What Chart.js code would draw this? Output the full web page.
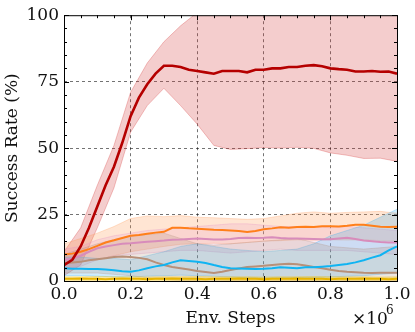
<!DOCTYPE html>
<html>
<head>
<meta charset="utf-8">
<script src="https://cdn.jsdelivr.net/npm/chart.js@4.4.1/dist/chart.umd.min.js"></script>
<style>
  html,body{margin:0;padding:0;background:#fff}
  #wrap{width:415px;height:332px;position:relative}
</style>
</head>
<body>
<div id="wrap"><canvas id="chart" width="415" height="332"></canvas></div>
<script>
// x positions (in millions of env steps)
const STEPS = [0,0.025,0.05,0.075,0.1,0.125,0.15,0.175,0.2,0.225,0.25,0.275,0.3,0.325,0.35,0.375,0.4,0.425,0.45,0.475,0.5,0.525,0.55,0.575,0.6,0.625,0.65,0.675,0.7,0.725,0.75,0.775,0.8,0.825,0.85,0.875,0.9,0.925,0.95,0.975,1.0];
const BAND_STEPS = [0,0.05,0.1,0.15,0.2,0.25,0.3,0.35,0.4,0.45,0.5,0.55,0.6,0.65,0.7,0.75,0.8,0.85,0.9,0.95,1.0];

const X_TICKS = [0,0.2,0.4,0.6,0.8,1.0];
const Y_TICKS = [0,25,50,75,100];

// mean success rate (%)
const redMean = [6,8,13,20,28,36,43,52,62,69,74,78,81,81,80.5,79.5,79,78.5,78,79,79,79,78.5,79.5,79.5,80,80,80.5,80.5,81,81.2,80.8,80,79.7,79.5,78.8,78.8,79,78.7,78.8,78];
const orangeMean = [10,10.3,11,12,13.2,14.5,15.3,16.2,17,17.3,17.8,18.2,18.5,20,20,19.8,19.7,19.5,19.3,19.2,19,18.8,18.4,18.8,19.5,19.8,20.2,20,20.3,20.4,20.3,20.6,20.6,20.5,20.8,21.2,21.2,20.8,20.4,20.3,20.4];
const pinkMean = [8,8.5,9.5,11,12.3,13,13.5,14,14.2,14.5,14.8,15,15.2,15.5,15.6,15.8,16,15.8,15.6,15.6,15.8,16.2,16.3,16.2,16.3,16.5,16.2,16,16,15.9,15.8,15.7,15.7,16,16.3,15.8,15.2,15,14.7,14.5,14.5];
const blueMean = [4.8,4.6,4.6,4.5,4.5,4.3,4,3.7,3.5,4,4.8,5.5,6,7,7.8,7.5,7.2,6.8,6,5.3,4.8,4.7,4.6,4.5,4.6,4.8,5.2,5,4.8,5.2,5.2,5.4,5.6,6,6.4,7,7.8,8.8,9.7,11.5,13];
const brownMean = [6.7,7,7.2,7.8,8.2,8.6,9,9.2,9,8.7,8.2,7,6,5.3,4.8,4.3,3.8,3.4,3,3.5,4.1,4.7,5.3,5.5,5.7,6,6.3,6.5,6.3,5.8,5.3,4.8,4.2,3.8,3.5,3.3,3.1,3,3.1,3.1,3.1];
const yellowMean = [0.8,0.8,0.9,0.8,0.8,0.7,0.8,0.9,0.8,0.8,0.7,0.8,0.8,0.9,0.8,0.8,0.8,0.7,0.8,0.8,0.8,0.9,0.8,0.8,0.7,0.8,0.8,0.8,0.9,0.8,0.8,0.8,0.7,0.8,0.8,0.8,0.9,0.8,0.8,0.7,0.8];

// band edges (upper / lower)
const redUp = [11,20,36,51,71,82,90,96,101,103,103,103,103,103,103,103,103,103,103,103,103];
const redLo = [2,6,20,35,56,66,72.5,66,59,51,49.5,49.8,50.2,50,50.3,49.9,48.2,47.3,46.1,46.2,45];
const orangeUp = [14,16,18,20.5,23.5,24.5,24.2,24.6,24,23.8,23.5,23.2,23.5,24.5,25.5,26,25.5,25.8,26,26.2,25.5];
const orangeLo = [7,7.5,8,9.5,11,12,13,13.8,14,14.2,14,14.5,15,15.2,15.5,15.3,15.5,15.4,15.5,15.2,15];
const pinkUp = [12,13,15.5,17,18,19,19.5,20,20.5,21,21.5,21.5,21,20.5,20.5,20.5,20,20.5,20,19.5,19];
const pinkLo = [4.5,5.5,8,9.5,10,10.5,11,11.5,11.5,11,10.5,11,11.5,12,11.5,11.5,11.5,11.5,11,10.5,10];
const blueUp = [9,9,8.5,8.5,8,9.5,11,13,14,13,12,11.5,11,11.5,12,14,17,19,21,24,27];
const blueLo = [2,2,1.8,1.6,1.5,1.8,2,2.2,2,1.8,1.5,1.2,1,1.1,1.2,1.3,1.5,1.8,2,2.5,3];
const brownUp = [10,12,14,15.5,17,17.5,18,16,14,13.5,14,14.5,15,15.5,16,14.5,13,12.5,12,12.5,13];
const brownLo = [3,3,3,2.5,2,1.2,0.5,0.2,0,0,0,0,0,0,0,0,0,0,0,0,0];
const yellowUp = [1.6,1.6,1.7,1.6,1.6,1.5,1.6,1.6,1.7,1.6,1.6,1.6,1.5,1.6,1.6,1.7,1.6,1.6,1.6,1.5,1.6];
const yellowLo = [0.2,0.2,0.2,0.3,0.2,0.2,0.2,0.2,0.2,0.3,0.2,0.2,0.2,0.2,0.2,0.2,0.3,0.2,0.2,0.2,0.2];

const FONT = "'DejaVu Serif',serif";
const FS = 17;

function pts(xs, ys){ return xs.map((x,i)=>({x, y: ys[i]})); }

// series: [mean, up, lo, lineColor, bandColor, lineWidth]
const SERIES = [
  [yellowMean, yellowUp, yellowLo, '#e8b400', 'rgba(240,190,0,0.35)', 2],
  [brownMean, brownUp, brownLo, '#b89078', 'rgba(175,140,120,0.22)', 2],
  [blueMean, blueUp, blueLo, '#10b4f2', 'rgba(40,170,240,0.22)', 2],
  [pinkMean, pinkUp, pinkLo, '#d88cbb', 'rgba(225,140,195,0.18)', 2],
  [orangeMean, orangeUp, orangeLo, '#ff7f1a', 'rgba(255,150,80,0.25)', 2],
  [redMean, redUp, redLo, '#b50000', 'rgba(210,45,45,0.24)', 2.6],
];

const datasets = [];
// bands first so lines end on top
SERIES.forEach(s => {
  const [mean, up, lo, col, band] = s;
  const lineCol = band.replace(/[\d.]+\)$/, '0.35)');
  datasets.push({data: pts(BAND_STEPS, up), borderColor: lineCol, borderWidth: 0.8, pointRadius: 0, fill: false, order: 10});
  datasets.push({data: pts(BAND_STEPS, lo), borderColor: lineCol, borderWidth: 0.8, pointRadius: 0, fill: '-1', backgroundColor: band, order: 10});
});
SERIES.forEach((s, i) => {
  const [mean, up, lo, col, band, lw] = s;
  datasets.push({data: pts(STEPS, mean), borderColor: col, borderWidth: lw, pointRadius: 0, fill: false, order: 6 - i});
});

// inward ticks on all four sides + frame + x10^6 label
const frame = {
  id: 'frame',
  afterDraw(c){
    const {ctx, chartArea: a, scales: {x, y}} = c;
    ctx.save();
    ctx.strokeStyle = '#000';
    ctx.lineWidth = 1;
    const tick = (px, len, horiz) => {
      ctx.beginPath();
      if(horiz){
        ctx.moveTo(px, a.bottom); ctx.lineTo(px, a.bottom - len);
        ctx.moveTo(px, a.top); ctx.lineTo(px, a.top + len);
      } else {
        ctx.moveTo(a.left, px); ctx.lineTo(a.left + len, px);
        ctx.moveTo(a.right, px); ctx.lineTo(a.right - len, px);
      }
      ctx.stroke();
    };
    for(let v=0; v<=1.0001; v+=0.05){
      const major = Math.abs(v*5 - Math.round(v*5)) < 1e-6;
      tick(Math.round(x.getPixelForValue(v))+0.5, major ? 5 : 3, true);
    }
    for(let v=0; v<=100; v+=5){
      tick(Math.round(y.getPixelForValue(v))+0.5, v % 25 === 0 ? 5 : 3, false);
    }
    ctx.strokeRect(a.left+0.5, a.top+0.5, a.right-a.left, a.bottom-a.top);
    // multiplier label
    ctx.fillStyle = '#111';
    ctx.textBaseline = 'alphabetic';
    ctx.font = FS + 'px ' + FONT;
    ctx.textAlign = 'left';
    ctx.fillText('\u00d710', 352, 324);
    ctx.font = '12px ' + FONT;
    ctx.fillText('6', 386, 314);
    ctx.restore();
  }
};

new Chart(document.getElementById('chart'), {
  type: 'line',
  data: { datasets },
  options: {
    responsive: false,
    animation: false,
    layout: { padding: { top: 12, right: 18, left: 0, bottom: 0 } },
    plugins: { legend: { display: false }, tooltip: { enabled: false } },
    elements: { line: { tension: 0 } },
    scales: {
      x: {
        type: 'linear', min: 0, max: 1,
        afterFit: s => { s.height = 51; },
        afterBuildTicks: s => { s.ticks = X_TICKS.map(v => ({value: v})); },
        ticks: { color: '#111', font: { family: FONT, size: FS }, padding: 3, maxRotation: 0,
                 callback: v => Number(v).toFixed(1) },
        grid: { color: c => (c.tick.value > 0 && c.tick.value < 1) ? 'rgba(0,0,0,0.55)' : 'rgba(0,0,0,0)',
                lineWidth: 1, drawTicks: false },
        border: { display: false, dash: [3,3] },
        title: { display: true, text: 'Env. Steps', color: '#111', font: { family: FONT, size: FS }, padding: { top: 0, bottom: 3 } }
      },
      y: {
        min: 0, max: 100,
        afterFit: s => { s.width = 64; },
        afterBuildTicks: s => { s.ticks = Y_TICKS.map(v => ({value: v})); },
        ticks: { color: '#111', font: { family: FONT, size: FS }, padding: 5 },
        grid: { color: c => (c.tick.value > 0 && c.tick.value < 100) ? 'rgba(0,0,0,0.55)' : 'rgba(0,0,0,0)',
                lineWidth: 1, drawTicks: false },
        border: { display: false, dash: [3,3] },
        title: { display: true, text: 'Success Rate (%)', color: '#111', font: { family: FONT, size: FS }, padding: { top: 2, bottom: 0 } }
      }
    }
  },
  plugins: [frame]
});
</script>
</body>
</html>
